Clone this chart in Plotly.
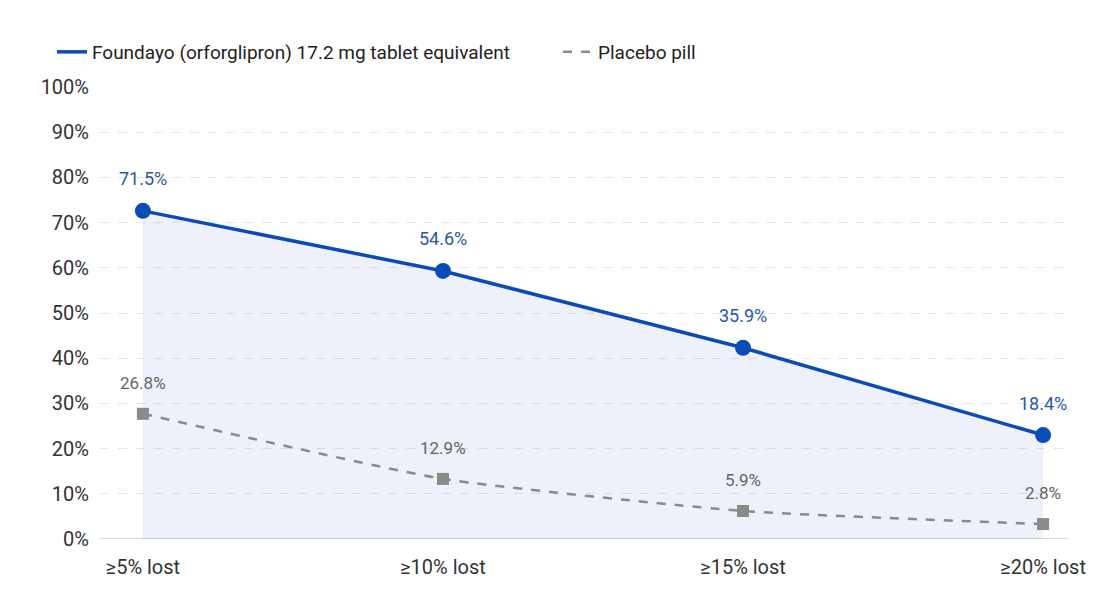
import plotly.graph_objects as go

categories = ["≥5% lost", "≥10% lost", "≥15% lost", "≥20% lost"]
foundayo_values = [72.6, 59.3, 42.3, 23.0]
foundayo_labels = ["71.5%", "54.6%", "35.9%", "18.4%"]
placebo_values = [27.7, 13.3, 6.2, 3.3]
placebo_labels = ["26.8%", "12.9%", "5.9%", "2.8%"]
y_ticks = list(range(0, 101, 10))
y_tick_text = [f"{v}%" for v in y_ticks]
foundayo_name = "Foundayo (orforglipron) 17.2 mg tablet equivalent"
placebo_name = "Placebo pill"

x = list(range(len(categories)))
BLUE = "#0a4bb8"
GRAY = "#8a8a8a"
FONT = "Roboto, Open Sans, sans-serif"

fig = go.Figure()
fig.add_trace(go.Scatter(
    x=x, y=foundayo_values, mode="lines+markers", showlegend=False,
    line=dict(color=BLUE, width=3.5),
    marker=dict(size=16, color=BLUE),
    fill="tozeroy", fillcolor="rgba(40,80,190,0.08)",
))
fig.add_trace(go.Scatter(
    x=x, y=placebo_values, mode="lines+markers", showlegend=False,
    line=dict(color=GRAY, width=2.5, dash="dash", shape="spline", smoothing=0.5),
    marker=dict(size=12, color=GRAY, symbol="square"),
))
# legend entries (lines only)
fig.add_trace(go.Scatter(x=[None], y=[None], mode="lines", name=foundayo_name,
                         line=dict(color=BLUE, width=3.5), legend="legend"))
fig.add_trace(go.Scatter(x=[None], y=[None], mode="lines", name=placebo_name,
                         line=dict(color=GRAY, width=2.5, dash="dash"), legend="legend2"))

for xi, v, t in zip(x, foundayo_values, foundayo_labels):
    fig.add_annotation(x=xi, y=v, text=t, showarrow=False, yshift=32,
                       font=dict(size=18, color="#2a58a8", family=FONT))
for xi, v, t in zip(x, placebo_values, placebo_labels):
    fig.add_annotation(x=xi, y=v, text=t, showarrow=False, yshift=31,
                       font=dict(size=17, color="#666666", family=FONT))

legend_common = dict(orientation="h", xanchor="left", xref="container",
                     y=1 - 52 / 600, yref="container", yanchor="middle",
                     font=dict(size=19, color="#222222"),
                     bgcolor="rgba(0,0,0,0)")

fig.update_layout(
    width=1100, height=600,
    margin=dict(l=100, r=32, t=87, b=61, autoexpand=False),
    paper_bgcolor="white", plot_bgcolor="white",
    font=dict(family=FONT, color="#333333", size=17),
    showlegend=True,
    legend=dict(x=52 / 1100, **legend_common),
    legend2=dict(x=558 / 1100, **legend_common),
    xaxis=dict(
        range=[-0.143, 3.083], tickvals=x, ticktext=categories,
        showgrid=False, zeroline=False, showline=False, ticks="",
        ticklabelstandoff=14,
        tickfont=dict(size=20, color="#333333"),
    ),
    yaxis=dict(
        range=[0, 100], tickvals=y_ticks, ticktext=y_tick_text,
        showgrid=True, gridcolor="#e6e6e6", griddash="dash", gridwidth=1,
        zeroline=False, ticks="", ticklabelstandoff=10,
        tickfont=dict(size=20, color="#333333"),
    ),
)
fig.add_shape(type="line", xref="paper", yref="y", x0=0, x1=1, y0=0, y1=0,
              line=dict(color="#cccccc", width=1.5), layer="below")

fig.write_html("out.html")
